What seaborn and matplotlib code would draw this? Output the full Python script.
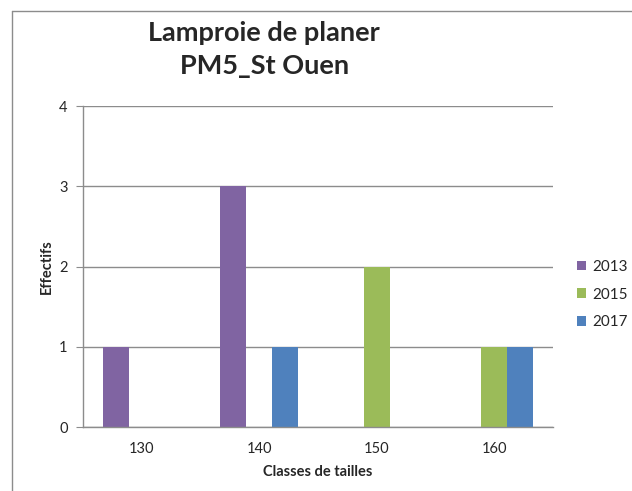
"""
Bar chart of size classes - Lamproie de planer, PM5_St Ouen.
"""
import matplotlib
matplotlib.use("Agg")
import matplotlib.pyplot as plt
from matplotlib.lines import Line2D
from matplotlib.patches import Patch
import pandas as pd
import seaborn as sns

classes = ["130", "140", "150", "160"]
years = ["2013", "2015", "2017"]
effectifs_2013 = [1, 3, 0, 0]
effectifs_2015 = [0, 0, 2, 1]
effectifs_2017 = [0, 1, 0, 1]

colors = ["#8064A2", "#9BBB59", "#4F81BD"]

sns.set_style("white")
plt.rcParams["font.family"] = ["Lato", "DejaVu Sans"]

df = pd.DataFrame({
    "classe": classes * 3,
    "annee": [y for y in years for _ in classes],
    "effectif": effectifs_2013 + effectifs_2015 + effectifs_2017,
})

fig = plt.figure(figsize=(6.32, 4.91), dpi=100)
ax = fig.add_axes([0.131, 0.130, 0.744, 0.654])

sns.barplot(data=df, x="classe", y="effectif", hue="annee",
            palette=colors, saturation=1, width=0.664, linewidth=0, ax=ax,
            legend=False, order=classes, hue_order=years)

ax.set_ylim(0, 4)
ax.set_yticks([0, 1, 2, 3, 4])
ax.set_xlim(-0.5, 3.5)
ax.yaxis.grid(True, color="#8c8c8c", linewidth=1)
ax.set_axisbelow(True)
for s in ["top", "right"]:
    ax.spines[s].set_visible(False)
for s in ["left", "bottom"]:
    ax.spines[s].set_color("#8c8c8c")
    ax.spines[s].set_linewidth(1)
ax.tick_params(axis="y", left=True, length=5, color="#8c8c8c", labelsize=10.5, pad=6)
ax.tick_params(axis="x", bottom=False, labelsize=10.5, pad=7)

ax.set_xlabel("Classes de tailles", fontsize=10.5, fontweight="bold", labelpad=7)
ax.set_ylabel("Effectifs", fontsize=10.5, fontweight="bold", labelpad=4)

fig.text(0.418, 0.9, "Lamproie de planer\nPM5_St Ouen", ha="center", va="center",
         fontsize=19.5, fontweight="bold", linespacing=1.45)

handles = [Patch(facecolor=c, edgecolor="none") for c in colors]
fig.legend(handles, years, loc="center left", bbox_to_anchor=(0.913, 0.4),
           frameon=False, fontsize=11, handlelength=0.6, handleheight=0.6,
           handletextpad=0.4, labelspacing=0.9, borderpad=0, borderaxespad=0)

# outer chart border
fig.add_artist(Line2D([0.019, 0.019], [0.0, 0.978], color="#8c8c8c", linewidth=1))
fig.add_artist(Line2D([0.019, 1.0], [0.978, 0.978], color="#8c8c8c", linewidth=1))

fig.savefig("out.png", dpi=100)
